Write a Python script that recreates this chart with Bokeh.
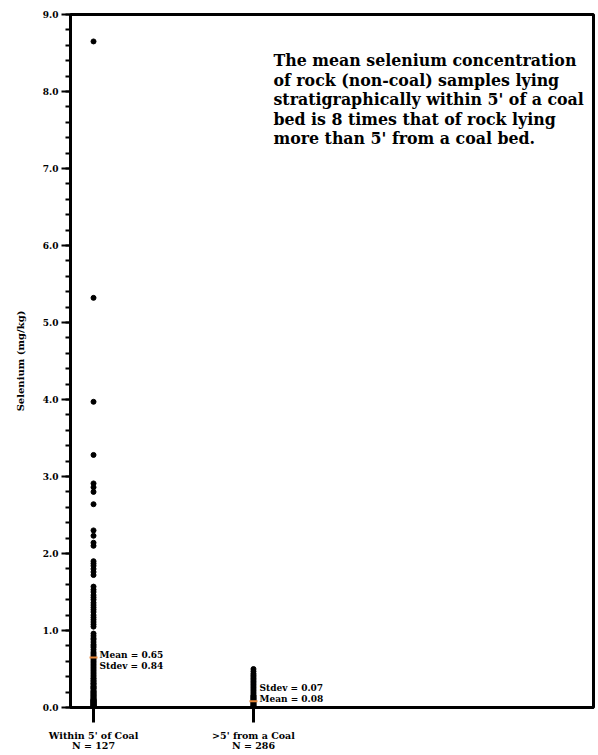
from bokeh.plotting import figure
from bokeh.models import Range1d, FixedTicker, Label
from bokeh.core.properties import value
from bokeh.embed import file_html
from bokeh.resources import INLINE

# ---- data ----
categories = ["Within 5' of Coal\nN = 127", ">5' from a Coal\nN = 286"]
cat_pos = [1, 2]

within_5ft = [8.65, 5.32, 3.97, 3.28, 2.91, 2.86, 2.80, 2.64, 2.30, 2.23, 2.14, 2.10,
              1.90, 1.87, 1.84, 1.80, 1.76, 1.72, 1.57, 1.53, 1.50, 1.46, 1.43, 1.40,
              1.36, 1.33, 1.30, 1.27, 1.24, 1.20, 1.17, 1.14, 1.11, 1.08, 1.05,
              0.96, 0.93, 0.90, 0.88, 0.85, 0.82, 0.80, 0.78, 0.75, 0.72, 0.70, 0.68,
              0.66, 0.64, 0.62, 0.60, 0.58, 0.56, 0.54, 0.52, 0.50, 0.48, 0.46, 0.44,
              0.42, 0.40, 0.38, 0.37, 0.35, 0.34, 0.32, 0.31, 0.30, 0.28, 0.27, 0.26,
              0.25, 0.24, 0.22, 0.21, 0.20, 0.19, 0.18, 0.17, 0.16, 0.15, 0.14, 0.13,
              0.12, 0.11, 0.10, 0.10, 0.09, 0.09, 0.08, 0.08, 0.07, 0.07, 0.06, 0.06,
              0.05, 0.05, 0.04, 0.04, 0.03, 0.03, 0.02, 0.02, 0.01, 0.01, 0.00]
beyond_5ft = [0.50, 0.47, 0.44, 0.42, 0.40, 0.38, 0.36, 0.34, 0.32, 0.30, 0.28, 0.26,
              0.24, 0.22, 0.20, 0.18, 0.16, 0.15, 0.14, 0.13, 0.12, 0.11, 0.10, 0.09,
              0.08, 0.07, 0.06, 0.05, 0.04, 0.03, 0.02, 0.01, 0.00]

means = [0.65, 0.08]
stdevs = [0.84, 0.07]

y_ticks = [0, 1, 2, 3, 4, 5, 6, 7, 8, 9]
y_minor = [i / 5 for i in range(0, 46)]

note = ("The mean selenium concentration\n"
        "of  rock (non-coal) samples lying\n"
        "stratigraphically within 5' of a coal\n"
        "bed is 8 times that of rock lying\n"
        "more than 5' from a coal bed.")

SERIF = "DejaVu Serif"

p = figure(width=596, height=753, output_backend="svg", toolbar_location=None,
           x_range=Range1d(0.856, 4.126), y_range=Range1d(0, 9),
           min_border_left=70, min_border_top=14, min_border_right=3, min_border_bottom=46)
p.grid.visible = False
p.outline_line_color = "black"
p.outline_line_width = 3
p.background_fill_color = "white"
p.border_fill_color = "white"

# points
xs1 = [cat_pos[0]] * len(within_5ft)
xs2 = [cat_pos[1]] * len(beyond_5ft)
p.scatter(xs1, within_5ft, size=5, color="black")
p.scatter(xs2, beyond_5ft, size=5, color="black")

# mean markers
p.scatter(cat_pos, means, marker="dash", size=8, line_color="#e8883a", line_width=2)

# stats text
p.text([cat_pos[0], cat_pos[0]], [means[0], means[0]],
       text=[f"Mean = {means[0]:.2f}", f"Stdev = {stdevs[0]:.2f}"],
       x_offset=6, y_offset=[-2, 9],
       text_font=value(SERIF), text_font_style="bold", text_font_size="9px",
       text_baseline="middle", text_color="black")
p.text([cat_pos[1], cat_pos[1]], [means[1], means[1]],
       text=[f"Stdev = {stdevs[1]:.2f}", f"Mean = {means[1]:.2f}"],
       x_offset=6, y_offset=[-13, -2],
       text_font=value(SERIF), text_font_style="bold", text_font_size="9px",
       text_baseline="middle", text_color="black")

# annotation
p.add_layout(Label(x=2.125, y=8.52, text=note, text_font=SERIF,
                   text_font_style="bold", text_font_size="15.8px",
                   text_baseline="top", text_align="left", text_line_height=1.02,
                   text_color="black"))

# y axis
ya = p.yaxis[0]
ya.ticker = FixedTicker(ticks=y_ticks, minor_ticks=y_minor)
ya.major_label_overrides = {t: f"{t:.1f}" for t in y_ticks}
ya.axis_line_width = 3
ya.major_tick_line_width = 2
ya.minor_tick_line_width = 2
ya.major_tick_out = 9
ya.major_tick_in = 0
ya.minor_tick_out = 5
ya.minor_tick_in = 0
ya.major_label_text_font = SERIF
ya.major_label_text_font_style = "bold"
ya.major_label_text_font_size = "9px"
ya.major_label_text_color = "black"
ya.major_label_standoff = 3
ya.axis_label = "Selenium (mg/kg)"
ya.axis_label_text_font = SERIF
ya.axis_label_text_font_style = "bold"
ya.axis_label_text_font_size = "10px"
ya.axis_label_text_color = "black"
ya.axis_label_standoff = 14

# x axis
xa = p.xaxis[0]
xa.ticker = FixedTicker(ticks=cat_pos, minor_ticks=[])
xa.major_label_overrides = {pos: lab for pos, lab in zip(cat_pos, categories)}
xa.axis_line_width = 3
xa.major_tick_line_width = 3
xa.major_tick_out = 15
xa.major_tick_in = 0
xa.minor_tick_line_color = None
xa.major_label_text_font = SERIF
xa.major_label_text_font_style = "bold"
xa.major_label_text_font_size = "9.5px"
xa.major_label_text_color = "black"
xa.major_label_text_line_height = 0.95
xa.major_label_standoff = 7

open("out.html", "w").write(file_html(p, INLINE))
